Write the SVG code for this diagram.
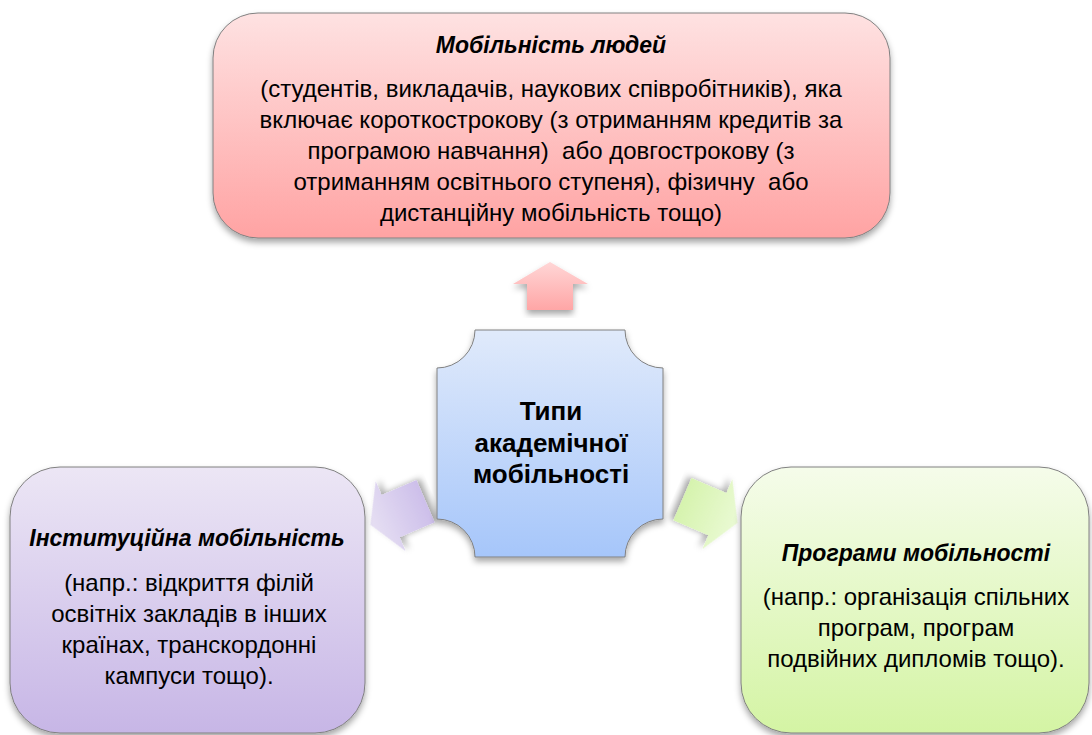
<svg xmlns="http://www.w3.org/2000/svg" width="1092" height="735" viewBox="0 0 1092 735">
<style>
.t{font-family:"Liberation Sans",Arial,sans-serif;fill:#000;text-anchor:middle}
.h{font-weight:bold;font-style:italic;font-size:23px}
.b{font-size:24px}
.c{font-weight:bold;font-size:26px}
.box{stroke:#808080;stroke-width:1}
</style>
<defs>
<filter id="sh" x="-10%" y="-10%" width="120%" height="125%">
<feDropShadow dx="0" dy="4" stdDeviation="3" flood-color="#000" flood-opacity="0.35"/>
</filter>
<linearGradient id="gRed" x1="0" y1="0" x2="0" y2="1"><stop offset="0" stop-color="#FEE2E2"/><stop offset="1" stop-color="#FFA3A3"/></linearGradient>
<linearGradient id="gRedA" x1="0" y1="0" x2="0" y2="1"><stop offset="0" stop-color="#FFD6D6"/><stop offset="1" stop-color="#FFA6A6"/></linearGradient>
<linearGradient id="gBlue" x1="0" y1="0" x2="0" y2="1"><stop offset="0" stop-color="#E0EAFB"/><stop offset="1" stop-color="#A6C6FA"/></linearGradient>
<linearGradient id="gPur" x1="0" y1="0" x2="0" y2="1"><stop offset="0" stop-color="#ECE6F5"/><stop offset="1" stop-color="#C7B6E6"/></linearGradient>
<linearGradient id="gPurA" x1="0" y1="0" x2="0" y2="1"><stop offset="0" stop-color="#E6DFF3"/><stop offset="1" stop-color="#CDBFEA"/></linearGradient>
<linearGradient id="gGrn" x1="0" y1="0" x2="0" y2="1"><stop offset="0" stop-color="#F5FCEA"/><stop offset="1" stop-color="#D4F4A4"/></linearGradient>
<linearGradient id="gGrnA" x1="0" y1="0" x2="0" y2="1"><stop offset="0" stop-color="#EAFAD4"/><stop offset="1" stop-color="#D6F3AE"/></linearGradient>
<path id="arr" d="M0,-30 L38,-8 L23,-8 L23,30 L-23,30 L-23,-8 L-38,-8 Z"/>
</defs>
<rect width="1092" height="735" fill="#fff"/>

<g id="connectors">
<path d="M550,262 L588,284 L573,284 L573,310 L527,310 L527,284 L513,284 Z" fill="url(#gRedA)" filter="url(#sh)"/>
<use href="#arr" transform="translate(398,513) rotate(-113.2)" fill="url(#gPurA)" filter="url(#sh)"/>
<use href="#arr" transform="translate(710,511) rotate(113.2)" fill="url(#gGrnA)" filter="url(#sh)"/>
</g>

<g id="node-people">
<rect class="box" x="213" y="13" width="677" height="225" rx="45" fill="url(#gRed)" filter="url(#sh)"/>
<text class="t h" x="551" y="53">Мобільність людей</text>
<text class="t b" x="551" y="97" xml:space="preserve">(студентів, викладачів, наукових співробітників), яка</text>
<text class="t b" x="551" y="128" xml:space="preserve">включає короткострокову (з отриманням кредитів за</text>
<text class="t b" x="551" y="159" xml:space="preserve">програмою навчання)  або довгострокову (з</text>
<text class="t b" x="551" y="190" xml:space="preserve">отриманням освітнього ступеня), фізичну  або</text>
<text class="t b" x="551" y="221" xml:space="preserve">дистанційну мобільність тощо)</text>
</g>

<g id="node-center">
<path class="box" stroke="#5a5a5a" d="M475,330 H625 A38,38 0 0 0 663,368 V519 A38,38 0 0 0 625,557 H475 A38,38 0 0 0 437,519 V368 A38,38 0 0 0 475,330 Z" fill="url(#gBlue)" filter="url(#sh)"/>
<text class="t c" x="551" y="420">Типи</text>
<text class="t c" x="551" y="452">академічної</text>
<text class="t c" x="551" y="483">мобільності</text>
</g>

<g id="node-institutional">
<rect class="box" x="10" y="467" width="355" height="266" rx="50" fill="url(#gPur)" filter="url(#sh)"/>
<text class="t h" x="187" y="546">Інституційна мобільність</text>
<text class="t b" x="189" y="591">(напр.: відкриття філій</text>
<text class="t b" x="189" y="622">освітніх закладів в інших</text>
<text class="t b" x="189" y="653">країнах, транскордонні</text>
<text class="t b" x="189" y="684">кампуси тощо).</text>
</g>

<g id="node-programs">
<rect class="box" x="741" y="467" width="348" height="266" rx="50" fill="url(#gGrn)" filter="url(#sh)"/>
<text class="t h" x="916" y="561">Програми мобільності</text>
<text class="t b" x="916" y="605">(напр.: організація спільних</text>
<text class="t b" x="916" y="636">програм, програм</text>
<text class="t b" x="916" y="667">подвійних дипломів тощо).</text>
</g>
</svg>
